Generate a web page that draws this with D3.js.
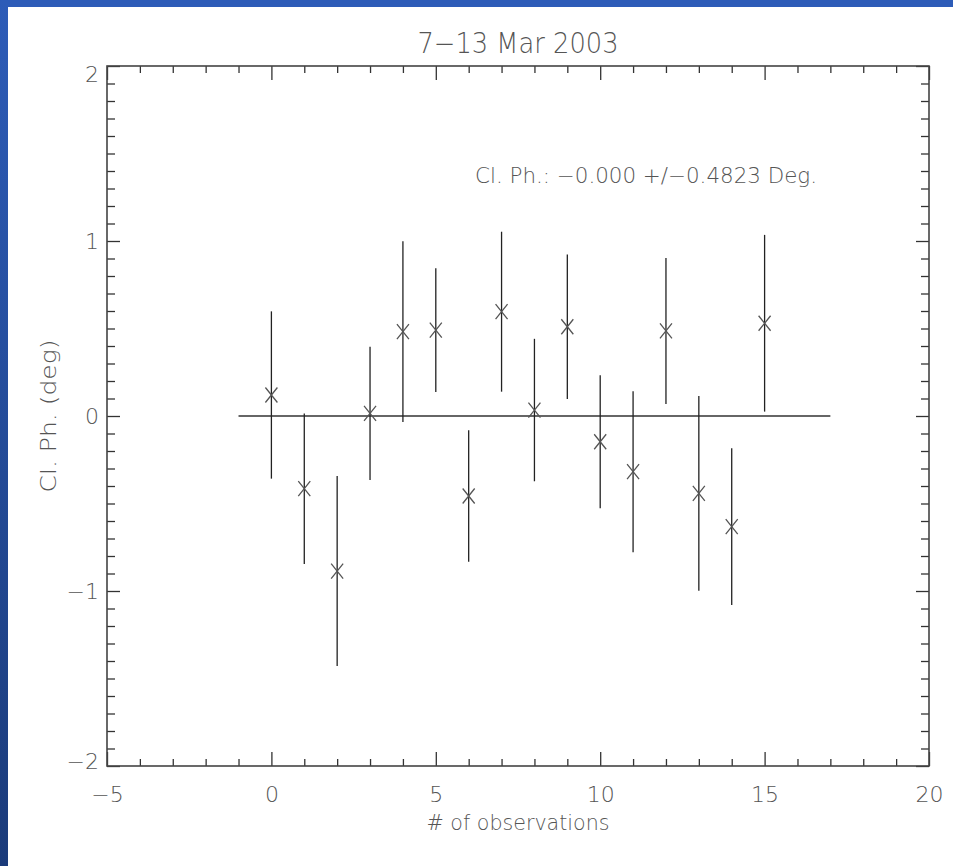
<!doctype html>
<html>
<head>
<meta charset="utf-8">
<script src="https://cdn.jsdelivr.net/npm/d3@7"></script>
<style>
  html, body { margin: 0; padding: 0; background: #fff; }
  svg { display: block; }
  text { font-family: "DejaVu Sans", sans-serif; font-weight: 200; fill: #555; }
</style>
</head>
<body>
<svg id="chart" width="953" height="866"></svg>
<script>
// observations and their closure phase (deg) with 1-sigma errors
const obsIndex = d3.range(0, 16);
const closurePhase = [0.12, -0.415, -0.886, 0.015, 0.482, 0.491, -0.457, 0.596,
                      0.034, 0.51, -0.147, -0.318, 0.486, -0.442, -0.632, 0.53];
const phaseError = [0.478, 0.43, 0.543, 0.381, 0.516, 0.354, 0.376, 0.457,
                    0.407, 0.4125, 0.38, 0.46, 0.4175, 0.557, 0.4475, 0.505];
const meanLine = [[-1, 0], [17, 0]];

const xMajor = [-5, 0, 5, 10, 15, 20];
const yMajor = [-2, -1, 0, 1, 2];

const titleText = "7\u221213 Mar 2003";
const noteText = "Cl. Ph.: \u22120.000 +/\u22120.4823 Deg.";
const xTitle = "# of observations";
const yTitle = "Cl. Ph. (deg)";

const svg = d3.select("#chart");
const W = 953, H = 866;
const mLeft = 107, mRight = 929, mTop = 66, mBottom = 766;

// blue slide border
const defs = svg.append("defs");
const grad = defs.append("linearGradient").attr("id", "edge")
  .attr("x1", 0).attr("y1", 0).attr("x2", 0).attr("y2", 1);
grad.append("stop").attr("offset", "0%").attr("stop-color", "#2d5cb8");
grad.append("stop").attr("offset", "100%").attr("stop-color", "#1b3b7a");
svg.append("rect").attr("x", 0).attr("y", 0).attr("width", W).attr("height", 7).attr("fill", "#2d5cb8");
svg.append("rect").attr("x", 0).attr("y", 0).attr("width", 8).attr("height", H).attr("fill", "url(#edge)");

const x = d3.scaleLinear().domain([-5, 20]).range([mLeft, mRight]);
const y = d3.scaleLinear().domain([-2, 2]).range([mBottom, mTop]);

const xMinor = d3.range(-5, 21, 1).filter(v => !xMajor.includes(v));
const yMinor = d3.range(-20, 21).map(v => v / 10).filter(v => !yMajor.includes(v));
const intFmt = d3.format("d");

function styleAxis(g) {
  g.select(".domain").remove();
  g.selectAll(".tick line").attr("stroke", "#333").attr("stroke-width", 1.3);
  g.selectAll(".tick text").attr("font-size", 22).attr("fill", "#555")
    .attr("font-family", "DejaVu Sans, sans-serif").attr("font-weight", 200);
}

// bottom
svg.append("g").attr("transform", `translate(0,${mBottom})`)
  .call(d3.axisBottom(x).tickValues(xMajor).tickFormat(intFmt).tickSize(-14).tickPadding(20).tickSizeOuter(0))
  .call(styleAxis);
svg.append("g").attr("transform", `translate(0,${mBottom})`)
  .call(d3.axisBottom(x).tickValues(xMinor).tickSize(-7).tickFormat("").tickSizeOuter(0))
  .call(styleAxis);
// top
svg.append("g").attr("transform", `translate(0,${mTop})`)
  .call(d3.axisTop(x).tickValues(xMajor).tickSize(-14).tickFormat("").tickSizeOuter(0))
  .call(styleAxis);
svg.append("g").attr("transform", `translate(0,${mTop})`)
  .call(d3.axisTop(x).tickValues(xMinor).tickSize(-7).tickFormat("").tickSizeOuter(0))
  .call(styleAxis);
// left
const yAx = svg.append("g").attr("transform", `translate(${mLeft},0)`)
  .call(d3.axisLeft(y).tickValues(yMajor).tickFormat(intFmt).tickSize(-13).tickPadding(8).tickSizeOuter(0))
  .call(styleAxis);
yAx.selectAll(".tick text").attr("dy", d => d === 2 ? "0.72em" : d === -2 ? "0.1em" : "0.36em");
svg.append("g").attr("transform", `translate(${mLeft},0)`)
  .call(d3.axisLeft(y).tickValues(yMinor).tickSize(-8).tickFormat("").tickSizeOuter(0))
  .call(styleAxis);
// right
svg.append("g").attr("transform", `translate(${mRight},0)`)
  .call(d3.axisRight(y).tickValues(yMajor).tickSize(-13).tickFormat("").tickSizeOuter(0))
  .call(styleAxis);
svg.append("g").attr("transform", `translate(${mRight},0)`)
  .call(d3.axisRight(y).tickValues(yMinor).tickSize(-8).tickFormat("").tickSizeOuter(0))
  .call(styleAxis);

// frame
svg.append("rect")
  .attr("x", mLeft).attr("y", mTop)
  .attr("width", mRight - mLeft).attr("height", mBottom - mTop)
  .attr("fill", "none").attr("stroke", "#444").attr("stroke-width", 1.6);

// zero line
svg.append("path")
  .attr("d", d3.line().x(d => x(d[0])).y(d => y(d[1]))(meanLine))
  .attr("fill", "none").attr("stroke", "#333").attr("stroke-width", 1.4);

// error bars
const pts = obsIndex.map((d, i) => ({ x: d, v: closurePhase[i], e: phaseError[i] }));
svg.append("g").selectAll("line").data(pts).join("line")
  .attr("x1", d => x(d.x)).attr("x2", d => x(d.x))
  .attr("y1", d => y(d.v + d.e)).attr("y2", d => y(d.v - d.e))
  .attr("stroke", "#222").attr("stroke-width", 1.3);

// cross markers
svg.append("g").selectAll("path").data(pts).join("path")
  .attr("d", d => {
    const cx = x(d.x), cy = y(d.v), hx = 6, hy = 7.5;
    return `M${cx - hx},${cy - hy}L${cx + hx},${cy + hy}M${cx - hx},${cy + hy}L${cx + hx},${cy - hy}`;
  })
  .attr("stroke", "#555").attr("stroke-width", 1.3).attr("fill", "none");

// texts
svg.append("text").attr("x", (mLeft + mRight) / 2).attr("y", 53)
  .attr("text-anchor", "middle").attr("font-size", 28)
  .attr("textLength", 201).attr("lengthAdjust", "spacingAndGlyphs")
  .text(titleText);

svg.append("text").attr("x", 475).attr("y", 183)
  .attr("font-size", 22)
  .attr("textLength", 342).attr("lengthAdjust", "spacingAndGlyphs")
  .text(noteText);

svg.append("text").attr("x", (mLeft + mRight) / 2).attr("y", 830)
  .attr("text-anchor", "middle").attr("font-size", 22)
  .attr("textLength", 183).attr("lengthAdjust", "spacingAndGlyphs")
  .text(xTitle);

svg.append("text").attr("transform", `translate(56,${(mTop + mBottom) / 2}) rotate(-90)`)
  .attr("text-anchor", "middle").attr("font-size", 22)
  .attr("textLength", 153).attr("lengthAdjust", "spacingAndGlyphs")
  .text(yTitle);
</script>
</body>
</html>
